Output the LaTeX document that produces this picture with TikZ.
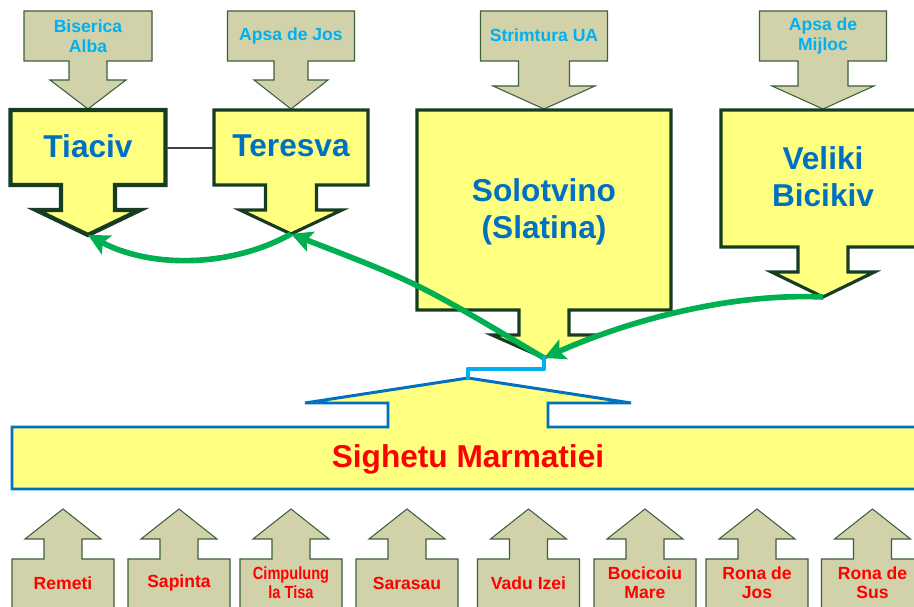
\documentclass[tikz,border=0pt]{standalone}
\usepackage{fontspec}
\setmainfont{Liberation Sans}
\usepackage{graphicx}
\usetikzlibrary{arrows.meta}

\definecolor{callgray}{RGB}{210,210,170}
\definecolor{calledge}{RGB}{60,95,60}
\definecolor{yelfill}{RGB}{255,255,128}
\definecolor{yeledge}{RGB}{22,60,34}
\definecolor{sigblue}{RGB}{0,112,192}
\definecolor{skyblue}{RGB}{0,176,240}
\definecolor{flowgreen}{RGB}{0,176,80}

% arrow box: name, centre x, box/stem/head half widths, box edge, box end, stem end, tip
\newcommand{\callout}[9]{(#2-#3,#6) -- (#2+#3,#6) -- (#2+#3,#7) -- (#2+#4,#7) -- (#2+#4,#8) -- (#2+#5,#8) -- (#2,#9) coordinate (#1-tip) -- (#2-#5,#8) -- (#2-#4,#8) -- (#2-#4,#7) -- (#2-#3,#7) -- cycle}

\begin{document}
\begin{tikzpicture}[x=0.02cm,y=-0.02cm,
    graycall/.style={fill=callgray,draw=calledge,line width=0.6pt},
    yelcall/.style={fill=yelfill,draw=yeledge,line width=1.8pt},
    sigcall/.style={fill=yelfill,draw=sigblue,line width=1.7pt},
    toplbl/.style={text=skyblue,font=\fontsize{10}{11.3}\selectfont\bfseries,align=center,inner sep=0pt},
    townlbl/.style={text=sigblue,font=\fontsize{18}{21}\selectfont\bfseries,align=center,inner sep=0pt},
    botlbl/.style={text=red,font=\fontsize{10}{11}\selectfont\bfseries,align=center,inner sep=0pt},
    flow/.style={draw=flowgreen,line width=3.2pt,-{Stealth[length=12pt,width=12pt,inset=2.5pt]}}]
	\useasboundingbox (0,0) rectangle (914,607);
	\clip (0,0) rectangle (914,607);
	% feeders at the top
	\draw[graycall] \callout{biserica}{88}{64}{19}{38}{11}{61}{80}{109};
	\draw[graycall] \callout{apsajos}{291}{63.5}{17}{37}{11}{61}{80}{109};
	\draw[graycall] \callout{strimtura}{544}{63.5}{25.5}{51}{11}{61}{86}{109};
	\draw[graycall] \callout{apsamijloc}{823}{63.5}{25}{51}{11}{61}{86}{109};
	\node[toplbl] (biserica) at (88,36) {Biserica\\Alba};
	\node[toplbl] (apsajos) at (291,35.5) {Apsa de Jos};
	\node[toplbl] (strimtura) at (544,35) {Strimtura UA};
	\node[toplbl] (apsamijloc) at (823,36) {Apsa de\\Mijloc};
	% towns
	\draw[yelcall,line width=2.5pt] \callout{tiaciv}{88}{77.5}{27}{52}{110}{185}{210}{235};
	\draw[yelcall] \callout{teresva}{291}{77}{25.5}{51}{110}{185}{210}{234};
	\draw[yelcall] \callout{solotvino}{544}{127}{25}{52}{110}{310}{335}{358};
	\draw[yelcall] \callout{veliki}{823}{102}{25}{51.5}{110}{247}{272}{297};
	\node[townlbl] (tiaciv) at (88,146) {Tiaciv};
	\node[townlbl] (teresva) at (291,146) {Teresva};
	\node[townlbl] (solotvino) at (544,212) {Solotvino\\(Slatina)};
	\node[townlbl] (veliki) at (823,177) {Veliki\\Bicikiv};
	\coordinate (tiaciv-e) at (166,148);
	\coordinate (teresva-w) at (214,148);
	\draw[black!75,line width=0.6pt] (tiaciv-e) -- (teresva-w);
	% Sighetu
	\draw[sigcall] \callout{sighetu}{468}{456}{80}{163}{489}{427}{403}{378};
	\node[townlbl,text=red] (sighetu) at (468,459) {Sighetu Marmatiei};
	% villages at the bottom
	\foreach \cx/\nm/\txt in {63/remeti/Remeti, 179/sapinta/Sapinta,
	    291/cimpulung/{\scalebox{0.83}[1]{Cimpulung}\\\scalebox{0.83}[1]{la Tisa}},
	    407/sarasau/Sarasau, 528.5/vadu/Vadu Izei, 645/bocicoiu/{Bocicoiu\\Mare},
	    757/ronajos/{Rona de\\Jos}, 872.5/ronasus/{Rona de\\Sus}}{
		\draw[graycall] \callout{\nm}{\cx}{51}{19}{38}{625}{559}{539}{509};
		\node[botlbl] (\nm) at (\cx,583) {\txt};
	}
	% green flows
	\draw[flow] (teresva-tip) .. controls (230,268) and (150,268) .. (tiaciv-tip);
	\draw[flow] (solotvino-tip) .. controls (418,283) .. (teresva-tip);
	\draw[flow] (veliki-tip) .. controls (730,293) and (630,320) .. (solotvino-tip);
	\draw[skyblue,line width=2.8pt,line join=round,line cap=round] (solotvino-tip) -- ++(0,11) -| (sighetu-tip);
\end{tikzpicture}
\end{document}
